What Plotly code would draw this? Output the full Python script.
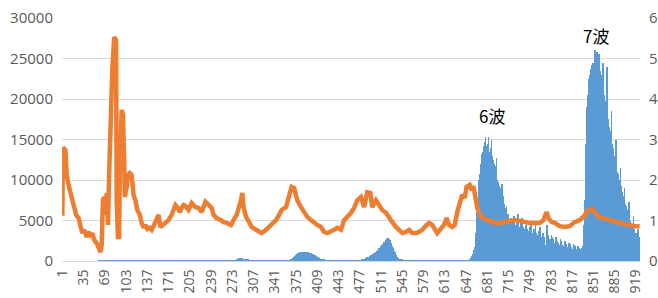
import plotly.graph_objects as go

# ---- orange line (left axis) : sampled days and values ----
line_days = [1,2,6,8,11,14,17,20,23,27,30,33,36,40,43,46,49,52,56,59,62,64,66,68,70,72,74,76,77,79,81,84,87,88,90,92,93,96,98,100,101,104,106,109,112,115,118,121,125,128,131,134,137,141,144,147,150,155,158,162,165,168,171,176,179,182,186,189,192,195,198,203,208,214,219,224,230,235,240,243,248,255,259,264,271,275,280,287,289,291,295,300,304,311,316,320,327,332,336,343,348,352,359,364,368,372,377,383,388,393,399,404,409,415,420,425,431,436,441,447,452,457,463,468,473,479,481,484,489,494,497,503,508,513,519,524,529,535,540,545,551,556,561,568,572,577,584,588,593,596,601,608,612,616,620,625,629,633,637,641,645,648,653,656,659,662,665,669,672,677,682,688,693,701,709,717,725,733,741,749,757,765,771,776,779,784,789,797,805,813,821,829,836,840,845,850,853,858,866,877,885,893,901,909,917,925]
line_vals = [5600,14000,13700,10600,9400,8150,7500,6700,5700,5300,4100,3450,3850,2950,3600,2950,3450,2600,2200,1750,1100,2000,7500,7900,5700,8400,4450,10850,13700,14950,23600,27650,27300,7500,2950,2950,11250,18650,18050,12450,7900,9150,10600,10850,10600,8150,7500,6300,5700,4700,4100,4450,3950,4100,3850,4300,4800,5700,4200,4450,4700,4800,5050,5700,6300,6900,6550,6050,6550,6900,6800,6300,7150,6650,6550,6050,7300,6900,6550,5700,5300,5050,4800,4700,4450,5050,5700,7500,8400,6650,5450,4800,4200,3850,3600,3450,3850,4200,4450,5050,5700,6300,6650,7900,9150,9000,7500,6650,6050,5450,5050,4700,4450,4200,3600,3450,3600,3850,4100,3850,5050,5450,5950,6550,7500,7900,7500,6650,8500,8400,6650,7500,6900,6300,5950,5300,4800,4200,3850,3450,3600,3850,3450,3450,3600,3850,4450,4700,4450,4100,3450,4100,4450,5300,4450,4200,4450,6050,6900,8150,7800,9150,9400,8750,9250,7900,6550,5800,5450,5200,5050,4800,4700,4700,4800,4950,5050,4950,4800,4700,4700,4700,5050,6050,5300,4800,4700,4300,4200,4300,4800,5050,5550,6050,6400,6400,6050,5550,5300,5050,4800,4700,4550,4450,4300,4300]

# ---- blue bars (right axis), one value per day from day 1 ----
bar_vals = (
    [0]*59 + [0.01]*61 + [0.02]*60 + [0.01]*50 + [0.02]*50
    + [0.04,0.05,0.06,0.07,0.08,0.08,0.07,0.08,0.07,0.06,0.06,0.05,0.05,0.04,0.04,0.03,0.03,0.03,0.02,0.02]
    + [0.015]*65
    + [0.03,0.04,0.05,0.06,0.08,0.09,0.11,0.12,0.14,0.15,0.17,0.18,0.19,0.2,0.21]
    + [0.22,0.21,0.23,0.22,0.22,0.23,0.22,0.21,0.22,0.23,0.22,0.22,0.21,0.22,0.21,0.2,0.21,0.2,0.19,0.2,0.18,0.17,0.17,0.16,0.15]
    + [0.14,0.13,0.12,0.1,0.09,0.08,0.07,0.06,0.06,0.05,0.04,0.04,0.03,0.03,0.03,0.02,0.02,0.02,0.02,0.02,0.01,0.01,0.01,0.01,0.01]
    + [0.01]*48
    + [0.02,0.03,0.03,0.04,0.05,0.05,0.06,0.07,0.07,0.08,0.09,0.1,0.1,0.11,0.12,0.13,0.14,0.15,0.16,0.17,0.18,0.19,0.2,0.21,0.22,0.24,0.25]
    + [0.27,0.29,0.31,0.33,0.34,0.36,0.38,0.4,0.42,0.44,0.46,0.47,0.5,0.52,0.55,0.57,0.58,0.56,0.55]
    + [0.52,0.48,0.45,0.41,0.37,0.33,0.29,0.25,0.22,0.18,0.15,0.12,0.1,0.08,0.07,0.06,0.05,0.04,0.04,0.03,0.03]
    + [0.02]*35 + [0.01]*72
    # 6th wave
    + [0.03,0.05,0.08,0.1,0.13,0.17,0.22,0.28,0.35,0.5,0.7,1.0,1.2,1.45,1.7,2.0,2.15,2.3,2.4,2.5,2.65,2.7,2.75,2.85,2.95]
    + [3.05,2.8,2.85,2.75,2.9,3.05,2.7,2.65,2.8,2.7,3.0,2.6,2.45,2.5,2.4,2.35,2.2,2.3,2.55,2.0,1.95,1.9,1.85]
    + [1.8,1.75,1.7,1.5,1.9,1.6,1.45,1.4,1.3,1.3,1.2,1.35,1.1,1.15,1.1,1.0,0.95,0.9,1.05,0.8]
    # between waves
    + [1.0,0.95,0.9,1.1,0.85,0.5,0.9, 1.0,0.95,1.15,0.9,0.85,0.45,0.85,
       0.95,0.9,1.05,0.85,0.8,0.4,0.8, 0.9,0.85,1.0,0.8,0.75,0.4,0.75,
       0.85,0.8,0.95,0.75,0.7,0.35,0.7, 0.8,0.75,0.9,0.7,0.65,0.3,0.65,
       0.75,0.7,0.85,0.65,0.6,0.3,0.6, 0.7,0.65,0.6,0.4,0.3,0.2,0.6,
       0.9,0.65,0.6,0.55,0.5,0.2,0.55, 0.65,0.6,0.55,0.5,0.45,0.15,0.5,
       0.6,0.55,0.5,0.45,0.4,0.15,0.4, 0.55,0.5,0.45,0.4,0.38,0.12,0.38,
       0.5,0.45,0.42,0.38,0.35,0.12,0.35, 0.45,0.42,0.4,0.35,0.3,0.1,0.3,
       0.42,0.4,0.38,0.33,0.28,0.1,0.3, 0.38,0.35,0.33,0.3,0.25,0.1,0.3,
       0.32,0.38]
    # 7th wave
    + [0.5,0.9,1.5,2.2,2.9,3.4,3.8,4.1,4.3,4.5,4.6,4.7,4.75,4.8,4.85,4.9,4.85,4.9,
       5.2,4.9,4.85,4.8,5.15,4.9,4.85,5.1,
       4.5,4.7,4.6,4.4,4.3,4.9,4.2,4.1,3.95,3.8,3.7,3.6,4.8,
       3.5,3.4,3.3,3.2,3.1,3.0,3.7, 2.9,2.8,2.7,2.6,2.5,2.4,3.0,
       2.3,2.2,2.15,2.1,2.0,1.95,2.3, 1.85,1.8,1.7,1.6,1.55,1.5,1.8,
       1.4,1.35,1.3,1.25,1.2,1.1,1.45, 1.05,1.0,0.95,0.9,0.85,0.8,1.1,
       0.8,0.75,0.7,0.7,0.65,0.6,0.8, 0.65,0.6,0.6]
)
bar_days = list(range(1, len(bar_vals) + 1))

x_ticks = list(range(1, 920, 34))
left_ticks = [0, 5000, 10000, 15000, 20000, 25000, 30000]
right_ticks = [0, 1, 2, 3, 4, 5, 6]

wave_labels = ["6波", "7波"]
wave_x = [688, 855]
wave_y = [18000, 27800]

ORANGE = "#ED7D31"
BLUE = "#5B9BD5"
GREY = "#595959"
GRID = "#D9D9D9"
TICKFONT = dict(family="Open Sans, DejaVu Sans, sans-serif", size=15, color=GREY)
XTICKFONT = dict(family="Open Sans, DejaVu Sans, sans-serif", size=14, color=GREY)

fig = go.Figure()
fig.add_trace(go.Bar(x=bar_days, y=bar_vals, marker=dict(color=BLUE, line=dict(width=0)),
                     yaxis="y", showlegend=False))
fig.add_trace(go.Scatter(x=line_days, y=line_vals, mode="lines",
                         line=dict(color=ORANGE, width=4.5), yaxis="y2", showlegend=False))

for t, xx, yy in zip(wave_labels, wave_x, wave_y):
    fig.add_annotation(x=xx, y=yy, xref="x", yref="y2", text=t, showarrow=False,
                       font=dict(family="Noto Sans CJK JP", size=17, color="#000000"))

fig.update_layout(
    width=658, height=298,
    margin=dict(l=62, r=18, t=18, b=37, autoexpand=False),
    paper_bgcolor="white", plot_bgcolor="white",
    bargap=0,
    xaxis=dict(range=[0.5, len(bar_vals) + 0.5], tickmode="array", tickvals=x_ticks,
               ticktext=[str(v) for v in x_ticks], tickangle=-90, tickfont=XTICKFONT,
               showgrid=False, showline=True, linecolor=GRID, linewidth=1,
               ticks="", ticklabelstandoff=2, zeroline=False, automargin=False),
    yaxis=dict(range=[0, 6], side="right", tickmode="array", tickvals=right_ticks,
               ticktext=[str(v) for v in right_ticks], tickfont=TICKFONT,
               showgrid=True, gridcolor=GRID, gridwidth=1, zeroline=False,
               ticklabelstandoff=8, automargin=False),
    yaxis2=dict(range=[0, 30000], side="left", overlaying="y", tickmode="array",
                tickvals=left_ticks, ticktext=[str(v) for v in left_ticks], tickfont=TICKFONT,
                showgrid=False, zeroline=False, ticklabelstandoff=8, automargin=False),
)

fig.write_html("out.html", config={"displayModeBar": False},
               post_script="document.body.style.margin='0';document.body.style.overflow='hidden';")
